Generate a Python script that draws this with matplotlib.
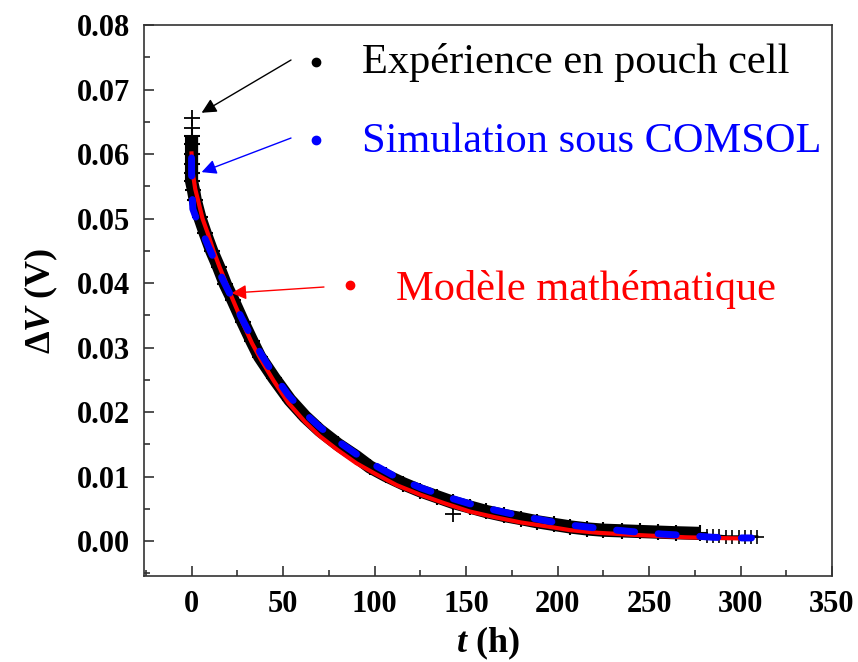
import matplotlib
matplotlib.use("Agg")
import matplotlib.pyplot as plt
from matplotlib.ticker import MultipleLocator

plt.rcParams['font.family'] = ['Liberation Serif', 'DejaVu Serif']
plt.rcParams['mathtext.fontset'] = 'custom'
plt.rcParams['mathtext.rm'] = 'Liberation Serif:bold'
plt.rcParams['mathtext.it'] = 'Liberation Serif:italic:bold'
plt.rcParams['mathtext.bf'] = 'Liberation Serif:bold'

# experience (bande dense)
t_exp = [0, 0, 0, 0, 0, 0, 1, 2, 4.5, 7.5, 11, 14.8, 18.5, 22.6, 28, 33, 37.2,
         45, 53.7, 62, 70, 80, 90, 97.5, 106, 115.7, 125, 134, 143, 152, 161,
         170.5, 180, 189, 198, 207, 216, 225, 235, 245, 255, 265, 278]
v_exp = [0.0628, 0.0615, 0.0600, 0.0585, 0.0570, 0.0558, 0.0545, 0.0529,
         0.0502, 0.0477, 0.0450, 0.0425, 0.0398, 0.0374, 0.0340, 0.0310,
         0.0286, 0.0253, 0.0219, 0.0193, 0.0172, 0.0150, 0.0131, 0.0115,
         0.0102, 0.0089, 0.0078, 0.0069, 0.0060, 0.0053, 0.0046, 0.0040,
         0.0035, 0.0030, 0.0026, 0.0022, 0.0019, 0.0017, 0.0016, 0.0015,
         0.0014, 0.0013, 0.0012]
# fin de la mesure (points espaces)
t_tail = [278, 281.5, 285, 288.5, 292, 295.5, 299, 302.5, 306, 309]
v_tail = [0.0011, 0.0008, 0.0008, 0.0008, 0.0007, 0.0007, 0.0007, 0.0007, 0.0007, 0.0007]
# points isoles
t_out = [0, 0, 143]
v_out = [0.0656, 0.0640, 0.0042]

# simulation COMSOL
t_sim = [0, 0.05, 0.7, 3, 6, 9, 12, 16.3, 21.7, 27, 33, 38, 45, 53, 62, 70, 80,
         90, 100, 112, 125, 138, 152, 166, 180, 195, 210, 225, 240, 257, 270,
         285, 300, 306]
v_sim = [0.0594, 0.0557, 0.0515, 0.0497, 0.0478, 0.0458, 0.0439, 0.0410,
         0.0379, 0.0348, 0.0315, 0.0290, 0.0258, 0.0226, 0.0198, 0.0177,
         0.0155, 0.0135, 0.0118, 0.0099, 0.0083, 0.0070, 0.0058, 0.0048,
         0.0039, 0.0031, 0.0024, 0.0019, 0.0015, 0.0011, 0.0009, 0.0006,
         0.0005, 0.0005]

# modele mathematique
t_mod = [0, 0.7, 2, 3.5, 6, 8.9, 12, 15.3, 19, 22.6, 28, 33, 38, 45, 53, 62,
         70, 80, 90, 100, 112, 125, 138, 152, 166, 180, 194, 207, 222, 240,
         255, 270, 285, 304]
v_mod = [0.0601, 0.0570, 0.0546, 0.0529, 0.0500, 0.0477, 0.0450, 0.0425,
         0.0399, 0.0374, 0.0338, 0.0307, 0.0281, 0.0248, 0.0214, 0.0185,
         0.0163, 0.0141, 0.0121, 0.0105, 0.0087, 0.0072, 0.0059, 0.0046,
         0.0037, 0.0029, 0.0023, 0.0017, 0.0013, 0.0010, 0.0008, 0.0006,
         0.0005, 0.0004]

fig = plt.figure(figsize=(8.58, 6.62), dpi=100)
ax = fig.add_axes([0.1678, 0.1299, 0.8019, 0.8323])

ax.plot(t_exp, v_exp, color="black", lw=9.5, solid_capstyle="butt", zorder=2)
ax.plot(t_exp, v_exp, "+", color="black", ms=12, mew=1.5, zorder=2)
ax.plot(t_tail, v_tail, color="black", lw=2, marker="+", ms=10, mew=1.2, zorder=2)
ax.plot(t_out, v_out, "+", color="black", ms=11, mew=1.3, zorder=2)

ax.plot(t_mod, v_mod, color="red", lw=3, zorder=3)
ax.plot(t_sim, v_sim, color="blue", lw=5, linestyle=(0, (2.6, 3.4)),
        dash_capstyle="round", zorder=4)

ax.set_xlim(-26, 350)
ax.set_ylim(-0.0054, 0.08)
ax.xaxis.set_major_locator(MultipleLocator(50))
ax.xaxis.set_minor_locator(MultipleLocator(25))
ax.yaxis.set_major_locator(MultipleLocator(0.01))
ax.yaxis.set_minor_locator(MultipleLocator(0.005))
ax.yaxis.set_major_formatter(plt.FuncFormatter(lambda v, p: f"{v:.2f}"))

for s in ax.spines.values():
    s.set_color("#333333")
    s.set_linewidth(1.2)
ax.tick_params(which="both", direction="in", top=False, right=False,
               color="#333333", width=1.2, labelsize=22, pad=10)
ax.tick_params(which="major", length=7)
ax.tick_params(which="minor", length=4)
for lab in ax.get_xticklabels() + ax.get_yticklabels():
    lab.set_fontweight("bold")

ax.set_xlabel(r"$t$ (h)", fontsize=26, fontweight="bold", labelpad=4)
ax.set_ylabel(r"$\Delta V$ (V)", fontsize=26, fontweight="bold", labelpad=12)

# annotations
ann = [
    ("Expérience en pouch cell", "black", (5.5, 0.0664), (0.2137, 0.9365), (0.25, 0.933), (0.317, 0.913)),
    ("Simulation sous COMSOL", "blue", (5.5, 0.0572), (0.2137, 0.7949), (0.25, 0.791), (0.317, 0.7695)),
    ("Modèle mathématique", "red", (21.9, 0.03845), (0.2616, 0.5245), (0.2994, 0.528), (0.366, 0.501)),
]
for txt, c, tip, start, dot, pos in ann:
    ax.annotate("", xy=tip, xycoords="data", xytext=start, textcoords="axes fraction",
                arrowprops=dict(arrowstyle="-|>", color=c, lw=1, mutation_scale=22,
                                shrinkA=0, shrinkB=0))
    ax.plot(*dot, "o", color=c, ms=6, transform=ax.transAxes, clip_on=False)
    ax.text(*pos, txt, color=c, fontsize=30.5, transform=ax.transAxes, va="baseline")

plt.savefig("out.png", dpi=100)
plt.close()
